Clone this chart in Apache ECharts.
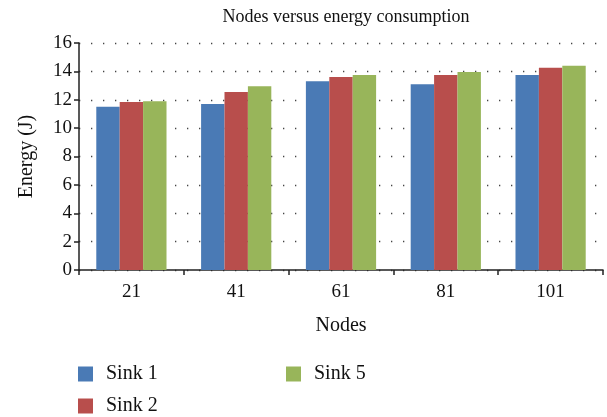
<!DOCTYPE html>
<html><head><meta charset="utf-8">
<script src="https://cdn.jsdelivr.net/npm/echarts@6/dist/echarts.min.js"></script>
<style>html,body{margin:0;padding:0;background:#fff}#c{width:607px;height:417px}</style>
</head><body><div id="c"></div>
<script>
const categories = ['21','41','61','81','101'];
const sink1 = [11.5, 11.7, 13.3, 13.1, 13.75];
const sink2 = [11.85, 12.55, 13.6, 13.75, 14.25];
const sink5 = [11.9, 12.95, 13.75, 13.95, 14.4];
const seriesNames = ['Sink 1','Sink 2','Sink 5'];
const colors = ['#4a7ab5','#b84e4c','#98b55a'];
const font = 'Liberation Serif';
const chart = echarts.init(document.getElementById('c'));
const mk = (name, data, i) => ({
  name, type:'bar', data, barGap:'0%', barCategoryGap:'33%',
  itemStyle:{color:colors[i]}, z: 3
});
const lg = (name, left, top) => ({
  data:[name], orient:'horizontal', left, top, itemWidth:15, itemHeight:15,
  icon:'rect', padding:0, textStyle:{fontFamily:font, fontSize:20, color:'#111', padding:[0,0,0,8]}
});
chart.setOption({
  animation:false,
  textStyle:{fontFamily:font, color:'#111'},
  title:{text:'Nodes versus energy consumption', left:341, top:3, textAlign:'center',
    textStyle:{fontFamily:font, fontSize:18, fontWeight:'normal', color:'#111'}},
  grid:{left:79, right:4, top:43, bottom:147, containLabel:false},
  legend:[ lg('Sink 1', 78, 364), lg('Sink 2', 78, 396), lg('Sink 5', 286, 364) ],
  xAxis:{type:'category', data:categories, name:'Nodes', nameLocation:'middle', nameGap:46,
    nameTextStyle:{fontFamily:font, fontSize:20, color:'#111'},
    axisLine:{lineStyle:{color:'#222', width:1.5}},
    axisTick:{show:true, length:5, lineStyle:{color:'#222', width:1.5}},
    axisLabel:{fontFamily:font, fontSize:19, color:'#111', margin:13}},
  yAxis:{type:'value', min:0, max:16, interval:2, name:'Energy (J)', nameLocation:'middle', nameGap:42,
    nameTextStyle:{fontFamily:font, fontSize:20, color:'#111'},
    axisLine:{show:true, lineStyle:{color:'#222', width:1.5}},
    axisTick:{show:true, length:5, lineStyle:{color:'#222', width:1.5}},
    axisLabel:{fontFamily:font, fontSize:19, color:'#111', margin:7}},
  series:[mk(seriesNames[0], sink1, 0), mk(seriesNames[1], sink2, 1), mk(seriesNames[2], sink5, 2)]
});
chart.setOption({yAxis:{splitLine:{show:true, lineStyle:{color:'#444', width:1.3, type:[1.3,10.7]}}}});
</script></body></html>
